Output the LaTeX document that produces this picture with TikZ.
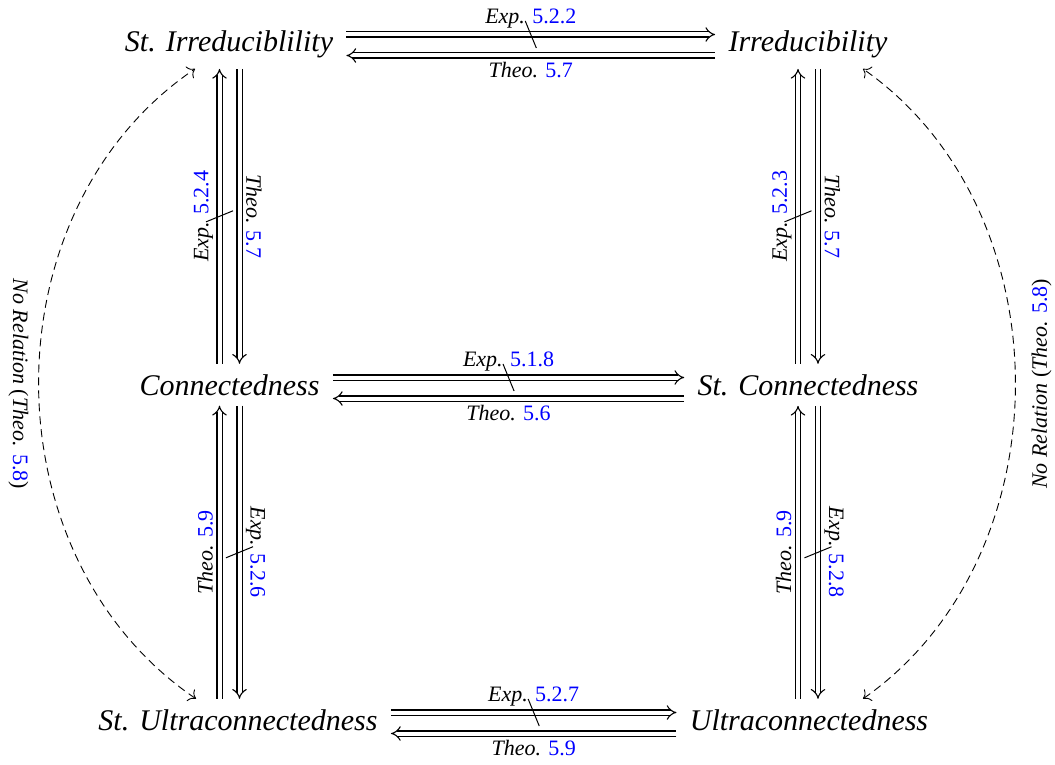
\documentclass[tikz,border=0pt]{standalone}
\usepackage{fontspec}
\setmainfont{Liberation Serif}
\usetikzlibrary{arrows.meta, cd}

\tikzset{
    prop/.style={font=\fontsize{15}{18}\selectfont\itshape, anchor=base,
        inner xsep=6.5pt, inner ysep=5pt},
    imp/.style={double, double distance=2pt, line width=0.55pt, -{cm implies[scale=1.5]}},
    lab/.style={font=\fontsize{11}{13}\selectfont, inner sep=3pt},
    notmark/.style={sloped, inner sep=0pt, minimum width=5pt, minimum height=13pt},
    slash/.style={line width=0.5pt},
    norel/.style={dash pattern=on 4pt off 2.5pt, line width=0.45pt, {To[scale=1.3]}-{To[scale=1.3]}},
}
\newcommand{\lnk}[1]{\textcolor{blue}{#1}}

\begin{document}
\begin{tikzpicture}[x=0.5pt, y=-0.5pt]
    \useasboundingbox (0,0) rectangle (1055,765);

    \node[prop] (sirr)   at (229,52)    {St. Irreduciblility};
    \node[prop] (irr)    at (808,52)    {Irreducibility};
    \node[prop] (conn)   at (229.5,395) {Connectedness};
    \node[prop] (sconn)  at (808,395)   {St. Connectedness};
    \node[prop] (sultra) at (238,730)   {St. Ultraconnectedness};
    \node[prop] (ultra)  at (809,730)   {Ultraconnectedness};

    % rows
    \draw[imp] ([yshift=8.75pt]sirr.base east) -- ([yshift=8.75pt]irr.base west)
        node[midway, lab, anchor=south] {\textit{Exp.} \lnk{5.2.2}}
        node[midway, notmark] (n1) {};
    \draw[imp] ([yshift=-1.75pt]irr.base west) -- ([yshift=-1.75pt]sirr.base east)
        node[midway, lab, anchor=north] {\textit{Theo.} \lnk{5.7}};
    \draw[slash] (n1.north west) -- (n1.south east);

    \draw[imp] ([yshift=8.75pt]conn.base east) -- ([yshift=8.75pt]sconn.base west)
        node[midway, lab, anchor=south] {\textit{Exp.} \lnk{5.1.8}}
        node[midway, notmark] (n2) {};
    \draw[imp] ([yshift=-1.75pt]sconn.base west) -- ([yshift=-1.75pt]conn.base east)
        node[midway, lab, anchor=north] {\textit{Theo.} \lnk{5.6}};
    \draw[slash] (n2.north west) -- (n2.south east);

    \draw[imp] ([yshift=8.75pt]sultra.base east) -- ([yshift=8.75pt]ultra.base west)
        node[midway, lab, anchor=south] {\textit{Exp.} \lnk{5.2.7}}
        node[midway, notmark] (n3) {};
    \draw[imp] ([yshift=-1.75pt]ultra.base west) -- ([yshift=-1.75pt]sultra.base east)
        node[midway, lab, anchor=north] {\textit{Theo.} \lnk{5.9}};
    \draw[slash] (n3.north west) -- (n3.south east);

    % left column
    \draw[imp] ([xshift=-5pt]conn.north) -- ([xshift=-5pt]conn.north |- sirr.south)
        node[midway, lab, rotate=90, anchor=south] {\textit{Exp.} \lnk{5.2.4}}
        node[midway, notmark] (n4) {};
    \draw[imp] ([xshift=5pt]conn.north |- sirr.south) -- ([xshift=5pt]conn.north)
        node[midway, lab, rotate=-90, anchor=south] {\textit{Theo.} \lnk{5.7}};
    \draw[slash] (n4.north west) -- (n4.south east);

    \draw[imp] ([xshift=-5pt]conn.south |- sultra.north) -- ([xshift=-5pt]conn.south)
        node[midway, lab, rotate=90, anchor=south] {\textit{Theo.} \lnk{5.9}};
    \draw[imp] ([xshift=5pt]conn.south) -- ([xshift=5pt]conn.south |- sultra.north)
        node[midway, lab, rotate=-90, anchor=south] {\textit{Exp.} \lnk{5.2.6}}
        node[midway, notmark] (n5) {};
    \draw[slash] (n5.north west) -- (n5.south east);

    % right column
    \draw[imp] ([xshift=-5pt]sconn.north) -- ([xshift=-5pt]sconn.north |- irr.south)
        node[midway, lab, rotate=90, anchor=south] {\textit{Exp.} \lnk{5.2.3}}
        node[midway, notmark] (n6) {};
    \draw[imp] ([xshift=5pt]sconn.north |- irr.south) -- ([xshift=5pt]sconn.north)
        node[midway, lab, rotate=-90, anchor=south] {\textit{Theo.} \lnk{5.7}};
    \draw[slash] (n6.north west) -- (n6.south east);

    \draw[imp] ([xshift=-5pt]sconn.south |- ultra.north) -- ([xshift=-5pt]sconn.south)
        node[midway, lab, rotate=90, anchor=south] {\textit{Theo.} \lnk{5.9}};
    \draw[imp] ([xshift=5pt]sconn.south) -- ([xshift=5pt]sconn.south |- ultra.north)
        node[midway, lab, rotate=-90, anchor=south] {\textit{Exp.} \lnk{5.2.8}}
        node[midway, notmark] (n7) {};
    \draw[slash] (n7.north west) -- (n7.south east);

    % no relation
    \draw[norel] ([xshift=-21pt]sultra.north) .. controls +(-209,-142) and +(-209,142) .. ([xshift=-17pt]sirr.south)
        node[pos=0.5, lab, rotate=-90, anchor=north, inner sep=5pt] {\textit{No Relation} (\textit{Theo.} \lnk{5.8})};
    \draw[norel] ([xshift=27pt]ultra.north) .. controls +(203,-142) and +(203,142) .. ([xshift=27.5pt]irr.south)
        node[pos=0.5, lab, rotate=90, anchor=north, inner sep=8pt] {\textit{No Relation} (\textit{Theo.} \lnk{5.8})};
\end{tikzpicture}
\end{document}
